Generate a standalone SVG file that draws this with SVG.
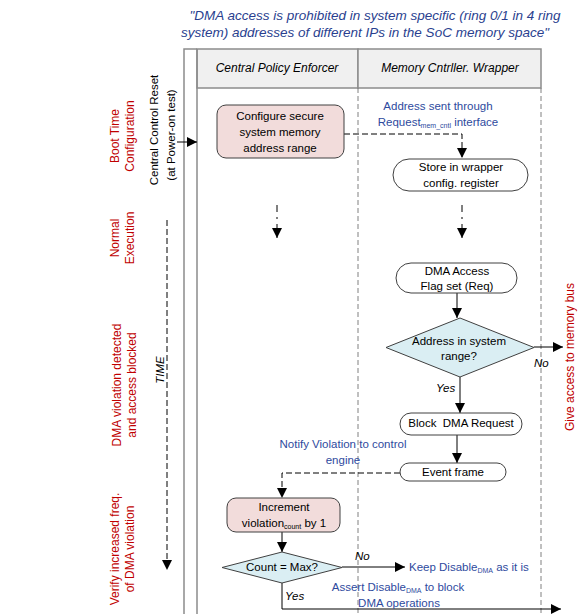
<svg xmlns="http://www.w3.org/2000/svg" width="578" height="614" viewBox="0 0 578 614">
<style>
text{font-family:"Liberation Sans",Arial,sans-serif;font-size:11.5px;fill:#000}
.t{font-size:13.5px;font-style:italic;fill:#2a3f8f}
.hd{font-size:12px;font-style:italic;text-anchor:middle}
.c{text-anchor:middle}
.red{fill:#c00000;font-size:12px;text-anchor:middle}
.blue{fill:#2e4a9e}
.it{font-style:italic}
.lane{stroke:#8c8c8c;stroke-width:1.5;fill:none}
.dl{stroke:#808080;stroke-width:1;stroke-dasharray:5,3;fill:none}
.ln{stroke:#000;stroke-width:1;fill:none}
.dash{stroke:#000;stroke-width:1;stroke-dasharray:6,3;fill:none}
.pink{fill:#f2dcdb;stroke:#404040;stroke-width:1}
.term{fill:#fff;stroke:#404040;stroke-width:1}
.dia{fill:#daeef3;stroke:#404040;stroke-width:1}
.sub{font-size:7px}
</style>
<defs>
<marker id="ah" viewBox="0 0 10 10" refX="10" refY="5" markerWidth="10" markerHeight="10" markerUnits="userSpaceOnUse" orient="auto"><path d="M0,0 L10,5 L0,10 z" fill="#000"/></marker>
</defs>
<g id="title">
<text class="t c" x="375" y="20">"DMA access is prohibited in system specific (ring 0/1 in 4 ring</text>
<text class="t c" x="365" y="37">system) addresses of different IPs in the SoC memory space"</text>
</g>
<g id="lanes">
<rect x="197" y="49" width="161" height="39" fill="#f0f0f0" stroke="#8c8c8c" stroke-width="1.5"/>
<rect x="358" y="49" width="183" height="39" fill="#f0f0f0" stroke="#8c8c8c" stroke-width="1.5"/>
<path class="lane" d="M184,614 V49 H197 M197,49 V614"/>
<path class="dl" d="M358,88 V614 M541,88 V614"/>
<text class="hd" x="277" y="72">Central Policy Enforcer</text>
<text class="hd" x="450" y="72">Memory Cntrller. Wrapper</text>
</g>
<g id="phases">
<text class="red" transform="translate(119,136) rotate(-90)">Boot Time</text>
<text class="red" transform="translate(134,136) rotate(-90)">Configuration</text>
<text class="red" transform="translate(119,238) rotate(-90)">Normal</text>
<text class="red" transform="translate(134,238) rotate(-90)">Execution</text>
<text class="red" transform="translate(121,385) rotate(-90)">DMA violation detected</text>
<text class="red" transform="translate(136,385) rotate(-90)">and access blocked</text>
<text class="red" transform="translate(119,549) rotate(-90)">Verify increased freq.</text>
<text class="red" transform="translate(134,549) rotate(-90)">of DMA violation</text>
<text class="red" transform="translate(574,357) rotate(-90)">Give access to memory bus</text>
</g>
<g id="reset">
<text class="c" font-size="12" transform="translate(158,130) rotate(-90)">Central Control Reset</text>
<text class="c" font-size="12" transform="translate(175,135) rotate(-90)">(at Power-on test)</text>
</g>
<g id="time">
<text class="c it" font-size="11" transform="translate(164,370) rotate(-90)">TIME</text>
</g>
<g id="connectors">
<path class="ln" d="M177,142 H197" marker-end="url(#ah)"/>
<path class="dash" d="M167,220 V570" marker-end="url(#ah)"/>
<path class="dash" d="M344,134 H462 V158" marker-end="url(#ah)"/>
<path class="ln" stroke-dasharray="7,5,2,5" d="M277,205 V238" marker-end="url(#ah)"/>
<path class="ln" stroke-dasharray="7,5,2,5" d="M462,205 V238" marker-end="url(#ah)"/>
<path class="ln" d="M457,293 V318" marker-end="url(#ah)"/>
<path class="ln" d="M534,347 H563" marker-end="url(#ah)"/>
<path class="ln" d="M460,377 V413" marker-end="url(#ah)"/>
<path class="ln" d="M457,435 V463" marker-end="url(#ah)"/>
<path class="dash" d="M400,473 H282 V498" marker-end="url(#ah)"/>
<path class="ln" d="M282,532 V552" marker-end="url(#ah)"/>
<path class="ln" d="M342,567 H405" marker-end="url(#ah)"/>
<path class="ln" d="M282,583 V609 H561" marker-end="url(#ah)"/>
</g>
<g id="configure">
<rect class="pink" x="217" y="105" width="127" height="53" rx="9"/>
<text class="c" x="280" y="120">Configure secure</text>
<text class="c" x="280" y="136">system memory</text>
<text class="c" x="280" y="152">address range</text>
</g>
<g id="addr-label">
<text class="c blue" x="438" y="110">Address sent through</text>
<text class="c blue" x="438" y="126">Request<tspan class="sub" dy="2">mem_cntl</tspan><tspan dy="-2"> interface</tspan></text>
</g>
<g id="store">
<rect class="term" x="393" y="159" width="135" height="32" rx="16"/>
<text class="c" x="461" y="171">Store in wrapper</text>
<text class="c" x="461" y="187">config. register</text>
</g>
<g id="dma-flag">
<rect class="term" x="396" y="263" width="121" height="30" rx="15"/>
<text class="c" x="457" y="275">DMA Access</text>
<text class="c" x="457" y="290">Flag set (Req)</text>
</g>
<g id="addr-check">
<polygon class="dia" points="460,318 534,347.5 460,377 386,347.5"/>
<text class="c" x="459" y="345">Address in system</text>
<text class="c" x="459" y="360">range?</text>
<text class="it" x="534" y="367">No</text>
<text class="it" x="436" y="392">Yes</text>
</g>
<g id="block">
<rect class="term" x="400" y="413" width="122" height="22" rx="11"/>
<text class="c" x="461" y="427">Block&#160; DMA Request</text>
</g>
<g id="notify-label">
<text class="c blue" x="343" y="448">Notify Violation to control</text>
<text class="c blue" x="343" y="464">engine</text>
</g>
<g id="event">
<rect class="term" x="400" y="463" width="106" height="18" rx="9"/>
<text class="c" x="453" y="476">Event frame</text>
</g>
<g id="increment">
<rect class="pink" x="227" y="498" width="113" height="34" rx="9"/>
<text class="c" x="284" y="511">Increment</text>
<text class="c" x="284" y="527">violation<tspan class="sub" dy="2">count</tspan><tspan dy="-2"> by 1</tspan></text>
</g>
<g id="count-check">
<polygon class="dia" points="282,552 342,567.5 282,583 222,567.5"/>
<text class="c" x="282" y="571">Count = Max?</text>
<text class="it" x="355" y="560">No</text>
<text class="it" x="285" y="600">Yes</text>
</g>
<g id="keep-label">
<text class="blue" x="409" y="571">Keep Disable<tspan class="sub" dy="2">DMA</tspan><tspan dy="-2"> as it is</tspan></text>
</g>
<g id="assert-label">
<text class="c blue" x="398" y="591">Assert Disable<tspan class="sub" dy="2">DMA</tspan><tspan dy="-2"> to block</tspan></text>
<text class="c blue" x="399" y="607">DMA operations</text>
</g>
</svg>
